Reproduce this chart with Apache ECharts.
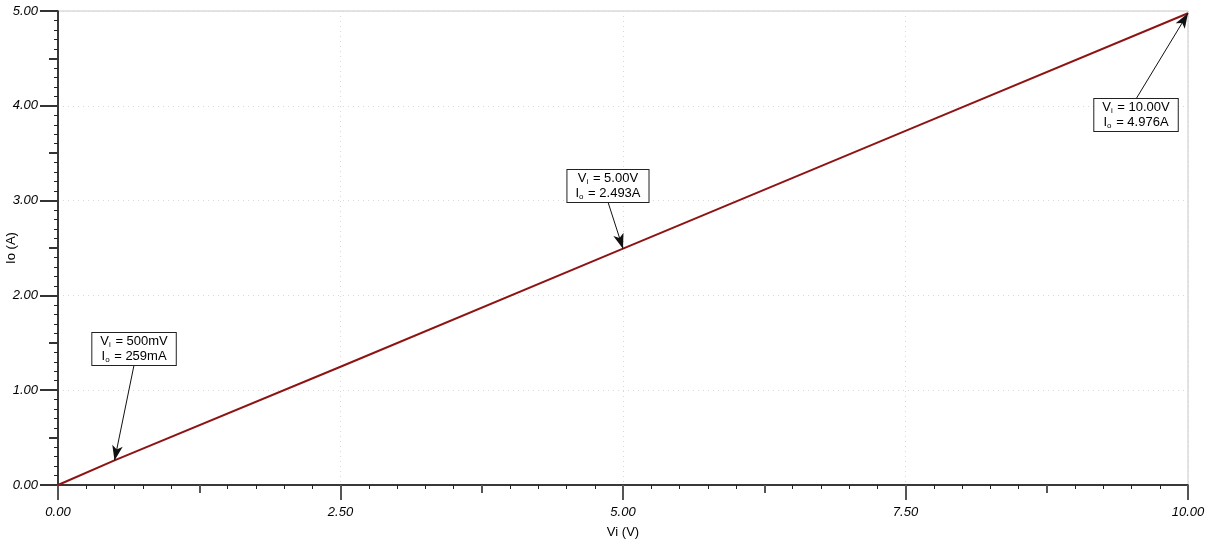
<!DOCTYPE html>
<html><head><meta charset="utf-8">
<script src="https://cdn.jsdelivr.net/npm/echarts@6/dist/echarts.min.js"></script>
<style>html,body{margin:0;padding:0;background:#fff}#c{width:1211px;height:546px}</style>
</head><body><div id="c"></div>
<script>
// Sweep data (Vi in V, Io in A)
const viValues = [0, 0.5, 2.5, 5, 7.5, 10];
const ioValues = [0, 0.259, 1.247, 2.493, 3.735, 4.976];
// Annotated cursor points
const annVi = [0.5, 5, 10];
const annIo = [0.259, 2.493, 4.976];
const annViText = ['500mV', '5.00V', '10.00V'];
const annIoText = ['259mA', '2.493A', '4.976A'];

// layout: arrow-tail anchor for each annotation box (data units) and box side
const annAnchor = [[0.673, 1.266, 'top'], [4.867, 2.985, 'top'], [9.54, 4.072, 'bottom']];

const FONT = 'Liberation Sans, Arial, sans-serif';
const fmt = v => v.toFixed(2);

const markLineData = annVi.map((v, i) => [
  {coord: [annAnchor[i][0], annAnchor[i][1]], symbol: 'none'},
  {coord: [v, annIo[i]], symbol: 'arrow', symbolSize: [8, 15]}
]);
const markPointData = annVi.map((v, i) => ({
  coord: [annAnchor[i][0], annAnchor[i][1]],
  label: {
    position: annAnchor[i][2],
    formatter: '{n|V}{s|i}{n| = ' + annViText[i] + '}\n{n|I}{s|o}{n| = ' + annIoText[i] + '}'
  }
}));

const chart = echarts.init(document.getElementById('c'), null, {renderer: 'canvas'});
chart.setOption({
  animation: false,
  backgroundColor: '#fff',
  grid: {left: 58, right: 23, top: 11, bottom: 61, show: true, borderColor: '#c8c8c8', borderWidth: 1,
         containLabel: false, outerBoundsMode: 'none'},
  xAxis: [{
    type: 'value', min: 0, max: 10, interval: 2.5,
    name: 'Vi (V)', nameLocation: 'middle', nameGap: 41, nameMoveOverlap: false,
    nameTextStyle: {color: '#000', fontFamily: FONT, fontSize: 13},
    axisLine: {show: true, onZero: false, lineStyle: {color: '#000', width: 1.5}},
    axisTick: {show: true, length: 15, lineStyle: {color: '#555', width: 2}},
    minorTick: {show: true, splitNumber: 10, length: 4, lineStyle: {color: '#222', width: 1}},
    axisLabel: {formatter: fmt, color: '#000', fontStyle: 'italic', fontFamily: FONT, fontSize: 13, margin: 21},
    splitLine: {show: true, lineStyle: {color: '#d8d8d8', type: [1, 4], width: 1}}
  }, {
    type: 'value', min: 0, max: 10, interval: 1.25, position: 'bottom', gridIndex: 0,
    axisLine: {show: false}, axisLabel: {show: false}, splitLine: {show: false},
    axisTick: {show: true, length: 8, lineStyle: {color: '#555', width: 2}}
  }],
  yAxis: [{
    type: 'value', min: 0, max: 5, interval: 1,
    name: 'Io (A)', nameLocation: 'middle', nameGap: 40, nameRotate: 90, nameMoveOverlap: false,
    nameTextStyle: {color: '#000', fontFamily: FONT, fontSize: 13},
    axisLine: {show: true, onZero: false, lineStyle: {color: '#000', width: 1.5}},
    axisTick: {show: true, length: 18, lineStyle: {color: '#333', width: 2}},
    minorTick: {show: true, splitNumber: 10, length: 4, lineStyle: {color: '#222', width: 1}},
    axisLabel: {formatter: fmt, color: '#000', fontStyle: 'italic', fontFamily: FONT, fontSize: 13, margin: 20},
    splitLine: {show: true, lineStyle: {color: '#d8d8d8', type: [1, 4], width: 1}}
  }, {
    type: 'value', min: 0, max: 5, interval: 0.5, position: 'left', offset: 0,
    axisLine: {show: false}, axisLabel: {show: false}, splitLine: {show: false},
    axisTick: {show: true, length: 9, lineStyle: {color: '#333', width: 2}}
  }],
  series: [{
    type: 'line',
    data: viValues.map((v, i) => [v, ioValues[i]]),
    showSymbol: false, symbol: 'none',
    lineStyle: {color: '#8e1414', width: 2},
    z: 3,
    markLine: {
      silent: true, animation: false,
      symbolSize: 12,
      lineStyle: {color: '#111', width: 1, type: 'solid'},
      label: {show: false},
      data: markLineData,
      z: 4
    },
    markPoint: {
      silent: true, animation: false,
      symbol: 'circle', symbolSize: 0,
      itemStyle: {color: 'transparent'},
      label: {
        show: true, distance: 0,
        backgroundColor: '#fff', borderColor: '#222', borderWidth: 1,
        padding: [1, 8, 1, 8],
        color: '#000', fontFamily: FONT, fontSize: 13, lineHeight: 15,
        rich: {
          n: {fontFamily: FONT, fontSize: 13, color: '#000', lineHeight: 15},
          s: {fontFamily: FONT, fontSize: 8, color: '#000', lineHeight: 15, verticalAlign: 'bottom', padding: [6, 1, 0, 0]}
        }
      },
      data: markPointData,
      z: 5
    }
  }]
});
</script></body></html>
